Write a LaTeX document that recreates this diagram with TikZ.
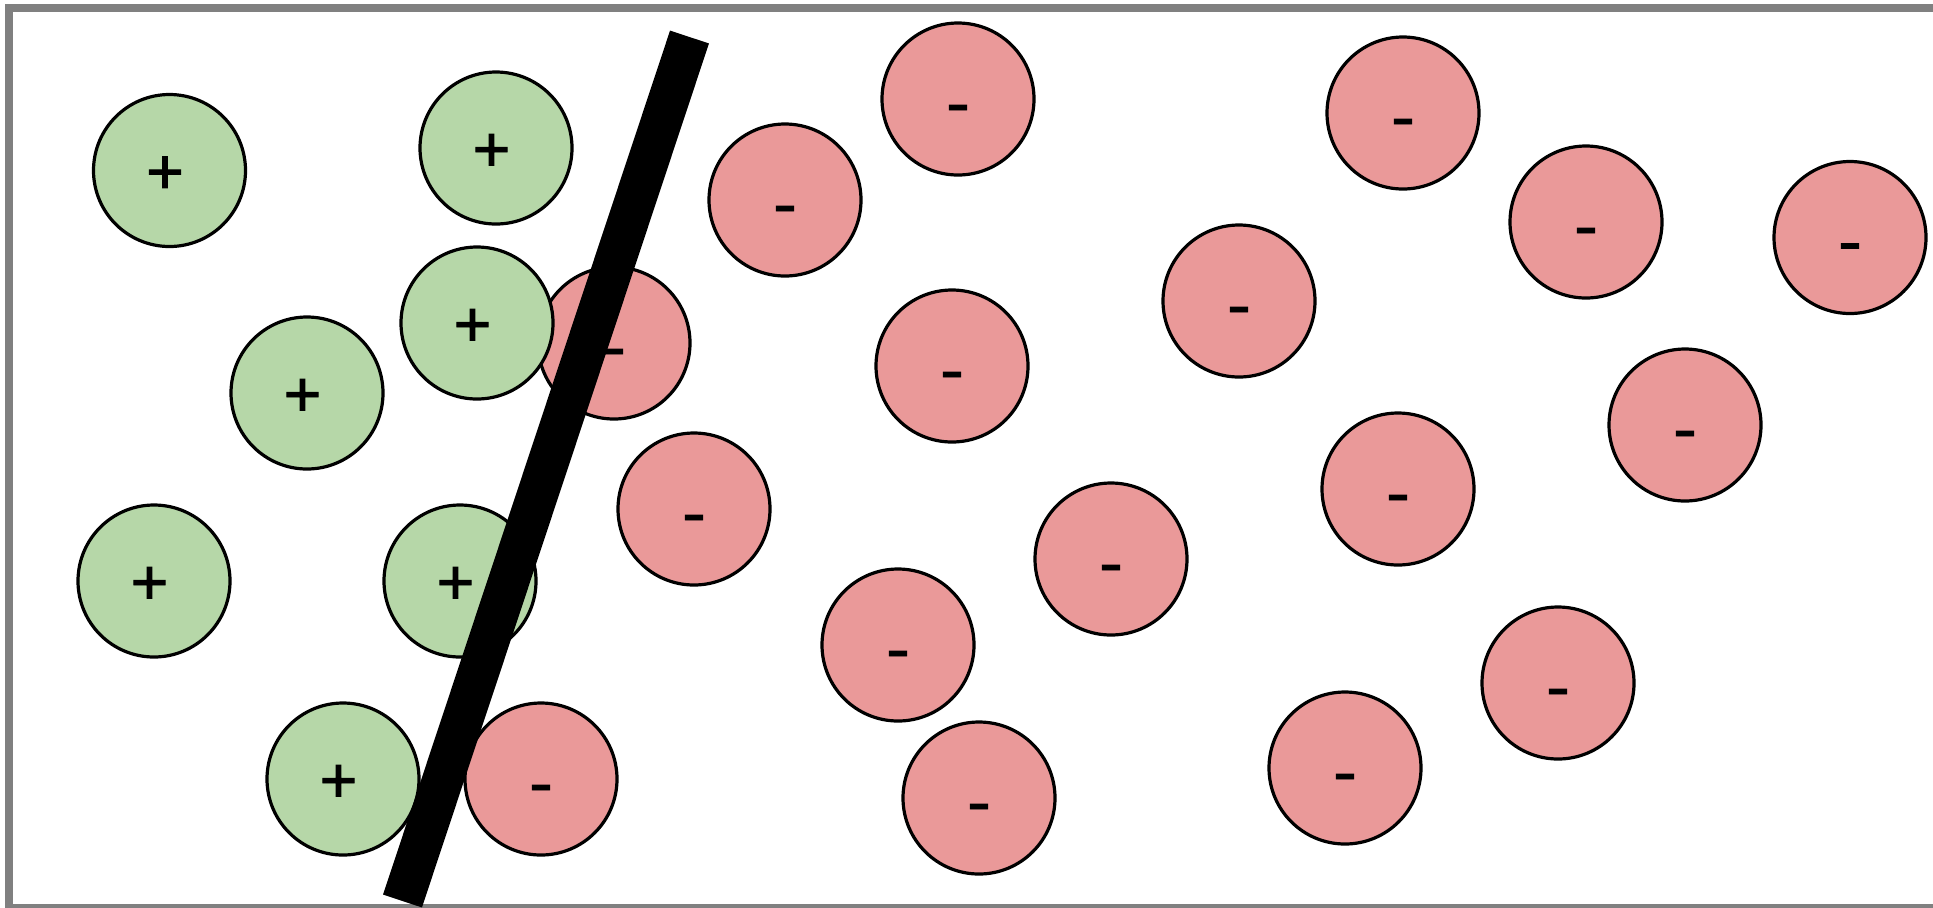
\documentclass[tikz,border=0pt]{standalone}
\usepackage{fontspec}
\setmainfont{Liberation Sans}
\newfontfamily\chargefont[FakeBold=1.5]{Liberation Sans}
\definecolor{poscol}{HTML}{B6D7A8}
\definecolor{negcol}{HTML}{EA9999}
\definecolor{framecol}{RGB}{128,128,128}
\tikzset{
  charge/.style={circle, draw=black, line width=1.6pt, minimum size=76pt, inner sep=0pt,
    font=\chargefont\fontsize{32pt}{32pt}\selectfont},
  poscharge/.style={charge, fill=poscol, text height=23pt, text depth=0pt},
  negcharge/.style={charge, fill=negcol, text height=25.5pt, text depth=0pt},
  barrier/.style={line width=20.5pt, line cap=butt, draw=black},
  frame/.style={draw=framecol, line width=4pt}
}
\newcommand{\plussign}{+\kern4.5pt}
\newcommand{\minussign}{\scalebox{1.1}[1]{-}}
\begin{document}
\begin{tikzpicture}[x=0.5pt, y=-0.5pt]
\useasboundingbox (0,0) rectangle (1933,907);
\draw[frame] (8.5,8) rectangle (1950,908);
% negative charges
\node[negcharge] (n1) at (614,343) {\minussign};
\node[negcharge] (n2) at (785,200) {\minussign};
\node[negcharge] (n3) at (958,99) {\minussign};
\node[negcharge] (n4) at (694,509) {\minussign};
\node[negcharge] (n5) at (952,366) {\minussign};
\node[negcharge] (n6) at (898,645) {\minussign};
\node[negcharge] (n7) at (1111,559) {\minussign};
\node[negcharge] (n8) at (541,779) {\minussign};
\node[negcharge] (n9) at (979,798) {\minussign};
\node[negcharge] (n10) at (1239,301) {\minussign};
\node[negcharge] (n11) at (1403,113) {\minussign};
\node[negcharge] (n12) at (1586,222) {\minussign};
\node[negcharge] (n13) at (1850,237.5) {\minussign};
\node[negcharge] (n14) at (1685,425) {\minussign};
\node[negcharge] (n15) at (1398,489) {\minussign};
\node[negcharge] (n16) at (1558,683) {\minussign};
\node[negcharge] (n17) at (1345,768) {\minussign};
% positive charges
\node[poscharge] (p1) at (169.5,170.5) {\plussign};
\node[poscharge] (p2) at (496,148) {\plussign};
\node[poscharge] (p3) at (307,393) {\plussign};
\node[poscharge] (p4) at (477,323) {\plussign};
\node[poscharge] (p5) at (154,581) {\plussign};
\node[poscharge] (p6) at (460,581) {\plussign};
\node[poscharge] (p7) at (343,779) {\plussign};
% barrier
\coordinate (btop) at (689.5,37);
\coordinate (bbot) at (402.5,901);
\draw[barrier] (btop) -- (bbot);
\end{tikzpicture}
\end{document}
